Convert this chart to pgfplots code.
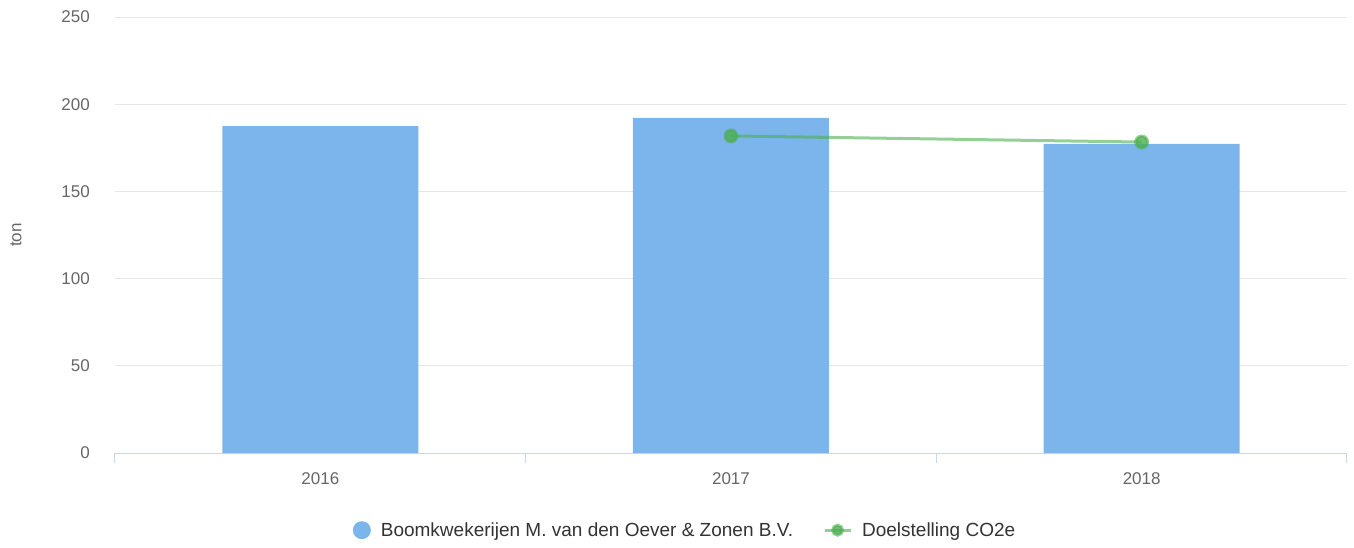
\documentclass[border=0pt]{standalone}
\usepackage{fontspec}
\setmainfont{Liberation Sans}
\usepackage{pgfplots}
\pgfplotsset{compat=1.18}
\definecolor{barblue}{HTML}{7CB5EC}
\definecolor{goal}{HTML}{4CAF50}
\definecolor{gridc}{HTML}{E6E6E6}
\definecolor{axc}{HTML}{CCD6EB}
\definecolor{tickc}{HTML}{666666}
\definecolor{legc}{HTML}{333333}
\begin{document}
\begin{tikzpicture}
\path[use as bounding box] (-115pt,-94pt) rectangle (1239pt,453pt);
\begin{axis}[
  at={(0pt,0pt)}, anchor=south west,
  scale only axis, width=1232pt, height=436pt,
  xmin=-0.5, xmax=2.5, ymin=0, ymax=250,
  xtick={0,1,2}, xticklabels={2016,2017,2018},
  ytick={0,50,...,250},
  /pgf/number format/assume math mode=true,
  axis x line*=bottom, axis y line*=left,
  x axis line style={draw=axc, line width=1pt, -},
  y axis line style={draw=none},
  ytick style={draw=none},
  xtick style={draw=none},
  major tick length=0pt,
  extra x ticks={-0.5,0.5,1.5,2.5},
  extra x tick labels={},
  extra x tick style={tick align=outside, major tick length=10pt, xtick style={draw=axc, line width=1pt}, grid=none},
  ymajorgrids, grid style={draw=gridc, line width=1pt},
  tick label style={font=\fontsize{17}{20}\selectfont, text=tickc, inner sep=0pt},
  yticklabel style={anchor=east, xshift=-25pt},
  xticklabel style={anchor=base, yshift=-31pt},
  ylabel={ton},
  every axis y label/.style={at={(rel axis cs:-0.0804,0.5)}, anchor=center, rotate=90, font=\fontsize{17}{20}\selectfont, text=tickc},
  legend style={at={(rel axis cs:0.4627,-0.177)}, anchor=center, draw=none, fill=none,
    legend columns=2, font=\fontsize{19}{22}\selectfont, text=legc,
    /tikz/every odd column/.append style={column sep=8pt},
    /tikz/every even column/.append style={column sep=28pt}},
  clip=false,
]
\addplot[ybar, bar width=196pt, fill=barblue, draw=none,
  legend image code/.code={\fill[barblue] (9pt,0pt) circle (9pt);}]
  coordinates {(0,187.5) (1,192.1) (2,177.2)};
\addlegendentry{Boomkwekerijen M. van den Oever \& Zonen B.V.}
\addplot[sharp plot, draw=goal, draw opacity=0.6, line width=3pt,
  mark=*, mark size=6pt, mark options={fill=goal, draw=none, fill opacity=0.8},
  legend image code/.code={\draw[goal, draw opacity=0.6, line width=3pt] (0pt,0pt)--(26pt,0pt); \fill[goal, fill opacity=0.8] (13pt,0pt) circle (5pt);}]
  coordinates {(1,181.8) (2,178.3)};
\addlegendentry{Doelstelling CO2e}
\end{axis}
\end{tikzpicture}
\end{document}
